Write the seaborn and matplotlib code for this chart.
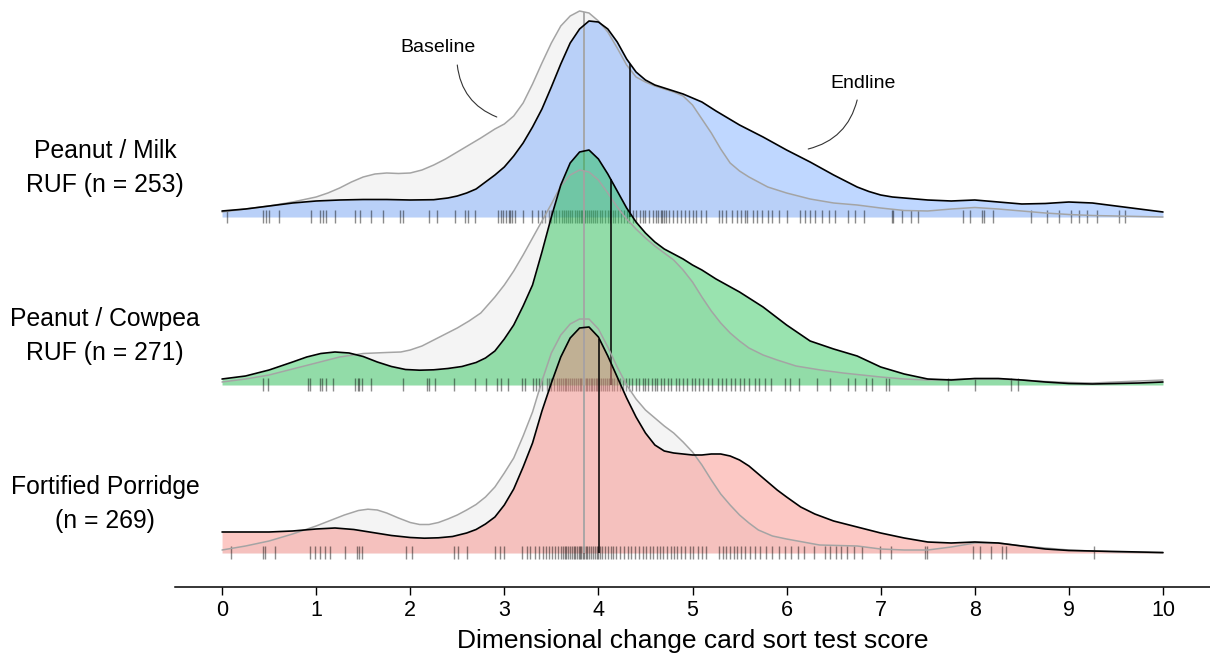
import numpy as np
import pandas as pd
import matplotlib
matplotlib.use("Agg")
import matplotlib.pyplot as plt
import seaborn as sns

# ---------------- data ----------------
groups = ["Peanut / Milk\nRUF (n = 253)",
          "Peanut / Cowpea\nRUF (n = 271)",
          "Fortified Porridge\n(n = 269)"]
fill_colors = ["#619CFF", "#00BA38", "#F8766D"]

# ridge heights (density, in plotted height units) at score positions
milk_end_x = [0, 0.25, 0.5, 0.75, 1, 1.25, 1.5, 1.75, 2, 2.25, 2.4, 2.5, 2.6, 2.7, 2.8,
              2.9, 3.0, 3.1, 3.2, 3.3, 3.4, 3.5, 3.6, 3.7, 3.8, 3.9, 4.0, 4.1, 4.2, 4.3, 4.4, 4.5, 4.6, 4.7,
              4.8, 4.9, 5.0, 5.1,
              5.25, 5.5, 5.75, 6, 6.25, 6.5, 6.75, 6.875, 7, 7.125, 7.25, 7.5, 7.75, 8, 8.25, 8.5, 8.75,
              9, 9.25, 9.5, 9.75, 10]
milk_end_d = [6, 8, 11, 14, 16, 17, 17.5, 17.5, 17, 17.3, 19, 21, 24, 28, 35,
              42, 50, 61, 74, 90, 108, 130, 153, 174, 188, 196, 195, 188, 175, 158, 145, 137, 132, 129,
              126, 123, 119, 115,
              106, 92, 80, 67, 55, 42, 30, 25.5, 22, 20, 19, 17, 16, 17, 15, 13, 13.5,
              15, 14, 11, 8, 5]
milk_base_x = [0, 0.25, 0.5, 0.75, 1, 1.125, 1.25, 1.375, 1.5, 1.625, 1.75, 1.875, 2, 2.125, 2.25, 2.375,
               2.5, 2.625, 2.75,
               2.9, 3.0, 3.1, 3.2, 3.3, 3.4, 3.5, 3.6, 3.7, 3.8, 3.9, 4.0, 4.1, 4.2, 4.3, 4.4, 4.5, 4.6,
               4.7, 4.8, 4.9, 5.0, 5.1, 5.2, 5.3, 5.4, 5.5, 5.6,
               5.8, 6.0, 6.25, 6.5, 6.75, 7, 7.25, 7.5, 7.75, 8, 8.25, 8.5, 8.75, 9, 9.25, 9.5, 9.75, 10]
milk_base_d = [5, 8, 11, 15, 20, 24, 29, 35, 40, 43, 44, 43.5, 44, 47, 52, 58,
               65, 72, 79,
               88, 93, 101, 114, 133, 154, 174, 191, 201, 206, 204, 196, 185, 169, 152, 140, 135, 131,
               128, 125, 121, 112, 98, 84, 68, 54, 46, 40,
               30, 24, 18, 14, 12, 9, 6.5, 6, 8, 9.5, 8, 6, 4, 2.5, 1.5, 1, 0.5, 0]

cow_end_x = [0, 0.25, 0.5, 0.75, 0.9, 1.05, 1.2, 1.35, 1.5, 1.65, 1.8, 1.95, 2.1, 2.25, 2.4, 2.55, 2.7, 2.8,
             2.9, 3.0, 3.1, 3.2, 3.3, 3.4, 3.5, 3.6, 3.7, 3.8, 3.9, 4.0, 4.1, 4.2, 4.3, 4.4, 4.5, 4.6, 4.7,
             4.8, 4.9, 5.0, 5.1,
             5.25, 5.5, 5.75, 6, 6.25, 6.5, 6.75, 7, 7.25, 7.5, 7.75, 8, 8.25, 8.5, 8.75, 9, 9.25, 9.5,
             9.75, 10]
cow_end_d = [6, 9, 15, 23, 28, 31.5, 33, 32, 28.5, 23, 18.5, 15.5, 14.8, 15.2, 16.5, 18.5, 22.5, 27,
             34, 46, 60, 79, 100, 133, 168, 200, 222, 233, 235, 226, 211, 194, 177, 163, 152, 143, 136,
             131, 126, 120, 115,
             106, 93, 78, 60, 44, 36, 29, 18, 11, 6, 5, 6.5, 6.5, 5, 3, 1.5, 1, 1.5, 2, 3]
cow_base_x = [0, 0.25, 0.5, 0.75, 1, 1.25, 1.5, 1.75, 1.9, 2.0, 2.125, 2.25, 2.375, 2.5, 2.625, 2.75,
              2.9, 3.0, 3.1, 3.2, 3.3, 3.4, 3.5, 3.6, 3.7, 3.8, 3.9, 4.0, 4.1, 4.2, 4.3, 4.4, 4.5, 4.6,
              4.7, 4.8, 4.9, 5.0, 5.1, 5.2, 5.3, 5.4, 5.5, 5.6,
              5.75, 5.9, 6.1, 6.36, 6.6, 6.8, 7, 7.25, 7.5, 7.75, 8, 8.25, 8.5, 8.75, 9, 9.25, 9.5, 9.75, 10]
cow_base_d = [3, 6, 10, 16, 22, 28, 31.5, 32.5, 33, 35, 39, 45, 51, 57, 64, 72,
              88, 100, 114, 130, 147, 164, 181, 199, 210, 215, 213, 205, 192, 178, 166, 156, 147, 139,
              132, 125, 115, 103, 88, 74, 62, 52, 44, 37,
              30, 25, 19, 15, 12, 10, 8, 6, 5, 5.5, 6, 6, 5, 3.5, 2.5, 2, 3, 4, 5]

por_end_x = [0, 0.25, 0.5, 0.75, 1, 1.2, 1.4, 1.6, 1.8, 2.0, 2.15, 2.3, 2.45, 2.6, 2.7, 2.8,
             2.9, 3.0, 3.1, 3.2, 3.3, 3.4, 3.5, 3.6, 3.7, 3.8, 3.9, 4.0, 4.1, 4.2, 4.3, 4.4, 4.5, 4.6, 4.7,
             4.8, 4.9, 5.0, 5.1, 5.2, 5.3, 5.4, 5.5, 5.6, 5.7, 5.8, 5.9, 6.0,
             6.15, 6.3, 6.5, 6.75, 7, 7.25, 7.5, 7.75, 8, 8.25, 8.5, 8.75, 9, 9.25, 9.5, 9.75, 10]
por_end_d = [21, 21, 21, 22, 24, 25, 23.5, 20.5, 17.5, 15.5, 14.8, 15.2, 16.5, 20, 23.5, 29,
             36, 48, 64, 86, 110, 142, 170, 196, 215, 225, 226, 216, 197, 176, 155, 136, 120, 108, 102,
             100, 99, 98, 98, 99, 99, 97, 93, 87, 79, 71, 63, 56,
             46, 39, 32, 26, 20, 15, 11, 10, 11, 10, 7, 4, 2.5, 2, 1.5, 1, 0.5]
por_base_x = [0, 0.25, 0.5, 0.75, 1, 1.15, 1.3, 1.45, 1.55, 1.65, 1.75, 1.875, 2.0, 2.1, 2.2, 2.3, 2.4, 2.5,
              2.6, 2.7, 2.8,
              2.9, 3.0, 3.1, 3.2, 3.3, 3.4, 3.5, 3.6, 3.7, 3.8, 3.9, 4.0, 4.1, 4.2, 4.3, 4.4, 4.5, 4.6,
              4.7, 4.8, 4.9, 5.0, 5.1, 5.2, 5.3, 5.4, 5.5, 5.6, 5.7,
              5.85, 6.0, 6.35, 6.75, 7, 7.25, 7.5, 7.75, 8, 8.25, 8.5, 8.75, 9, 9.25, 9.5, 9.75, 10]
por_base_d = [3, 7, 12, 19, 27, 32.5, 38, 42.5, 43.8, 43, 40, 35, 30.5, 28.5, 28.5, 30.5, 34, 38,
              43, 48.5, 56,
              66, 80, 95, 117, 141, 172, 200, 218, 229, 234, 234, 224, 206, 186, 168, 154, 143, 135,
              127, 120, 111, 101, 88, 73, 59, 48, 38, 30, 23,
              17, 14, 8, 7, 4, 3, 3, 6, 10, 10, 7, 5, 3, 2, 1, 0.5, 0]

# endline individual scores (rug)
milk_rug = [0.05, 0.44, 0.47, 0.50, 0.60, 0.95, 1.04, 1.07, 1.10, 1.20, 1.41, 1.47, 1.58, 1.71, 1.89, 1.92,
            2.20, 2.28, 2.48, 2.58, 2.61, 2.69, 2.93, 2.96, 2.99, 3.02, 3.05, 3.06, 3.08, 3.11, 3.20, 3.29,
            3.36, 3.40, 3.43, 3.47, 3.50, 3.53, 3.55, 3.58, 3.61, 3.63, 3.66, 3.68, 3.70, 3.72, 3.75, 3.77,
            3.79, 3.81, 3.83, 3.85, 3.86, 3.88, 3.90, 3.92, 3.94, 3.96, 3.99, 4.02, 4.04, 4.07, 4.10, 4.12,
            4.15, 4.18, 4.21, 4.24, 4.27, 4.30, 4.33, 4.37, 4.40, 4.44, 4.47, 4.50, 4.54, 4.58, 4.61, 4.63,
            4.66, 4.68, 4.70, 4.72, 4.75, 4.79, 4.84, 4.88, 4.92, 4.96, 5.00, 5.04, 5.09, 5.14, 5.28, 5.31,
            5.36, 5.42, 5.47, 5.52, 5.56, 5.58, 5.64, 5.69, 5.74, 5.80, 5.85, 5.92, 6.00, 6.14, 6.20, 6.25,
            6.30, 6.38, 6.45, 6.51, 6.65, 6.73, 6.82, 7.12, 7.13, 7.23, 7.32, 7.40, 7.87, 7.95, 8.08, 8.10,
            8.19, 8.60, 8.77, 8.90, 9.02, 9.11, 9.19, 9.30, 9.53, 9.60]
cow_rug = [0.44, 0.49, 0.91, 0.93, 1.04, 1.06, 1.10, 1.18, 1.41, 1.44, 1.46, 1.49, 1.58, 1.92, 2.18, 2.20,
           2.26, 2.46, 2.69, 2.80, 2.92, 2.97, 3.04, 3.19, 3.22, 3.30, 3.34, 3.37, 3.40, 3.45, 3.48, 3.50,
           3.53, 3.56, 3.58, 3.60, 3.62, 3.64, 3.66, 3.68, 3.70, 3.72, 3.74, 3.76, 3.78, 3.80, 3.82, 3.84,
           3.85, 3.87, 3.88, 3.90, 3.92, 3.93, 3.95, 3.97, 3.99, 4.01, 4.03, 4.05, 4.07, 4.09, 4.11, 4.14,
           4.17, 4.20, 4.23, 4.26, 4.29, 4.33, 4.36, 4.40, 4.43, 4.47, 4.50, 4.53, 4.57, 4.60, 4.62, 4.66,
           4.70, 4.74, 4.77, 4.82, 4.86, 4.90, 4.94, 4.99, 5.03, 5.07, 5.11, 5.16, 5.21, 5.27, 5.31, 5.36,
           5.41, 5.45, 5.50, 5.55, 5.60, 5.66, 5.71, 5.77, 5.83, 5.98, 6.04, 6.13, 6.32, 6.46, 6.65, 6.73,
           6.84, 6.91, 7.06, 7.09, 7.72, 8.00, 8.38, 8.46]
por_rug = [0.10, 0.44, 0.46, 0.56, 0.94, 0.99, 1.04, 1.09, 1.15, 1.31, 1.43, 1.46, 1.49, 1.96, 2.02, 2.46,
           2.51, 2.60, 2.90, 2.95, 3.00, 3.19, 3.24, 3.27, 3.33, 3.37, 3.41, 3.44, 3.48, 3.51, 3.54, 3.57,
           3.60, 3.62, 3.64, 3.66, 3.68, 3.70, 3.72, 3.74, 3.75, 3.77, 3.79, 3.80, 3.82, 3.84, 3.85, 3.87,
           3.88, 3.90, 3.92, 3.94, 3.96, 3.98, 4.00, 4.02, 4.04, 4.07, 4.10, 4.13, 4.16, 4.19, 4.23, 4.27,
           4.31, 4.35, 4.39, 4.43, 4.47, 4.51, 4.55, 4.58, 4.62, 4.65, 4.69, 4.73, 4.77, 4.80, 4.84, 4.88,
           4.92, 4.97, 5.01, 5.06, 5.10, 5.14, 5.28, 5.32, 5.36, 5.40, 5.44, 5.47, 5.52, 5.56, 5.61, 5.66,
           5.72, 5.78, 5.85, 5.92, 5.98, 6.05, 6.12, 6.19, 6.29, 6.41, 6.46, 6.52, 6.58, 6.64, 6.72, 6.80,
           6.99, 7.11, 7.47, 7.49, 7.98, 8.06, 8.17, 8.29, 8.33, 9.27]

median_base = [3.85, 3.85, 3.85]
median_end = [4.34, 4.13, 4.01]

xticks = list(range(0, 11))
xlabel = "Dimensional change card sort test score"

series = [
    (milk_base_x, milk_base_d, milk_end_x, milk_end_d, milk_rug),
    (cow_base_x, cow_base_d, cow_end_x, cow_end_d, cow_rug),
    (por_base_x, por_base_d, por_end_x, por_end_d, por_rug),
]

# ---------------- layout ----------------
sns.set_theme(style="white")
plt.rcParams["font.family"] = ["Liberation Sans", "DejaVu Sans"]
plt.rcParams["text.color"] = "black"
plt.rcParams["axes.labelcolor"] = "black"
plt.rcParams["xtick.color"] = "black"
plt.rcParams["lines.solid_joinstyle"] = "round"

W, H = 1210, 658
fig = plt.figure(figsize=(W / 100, H / 100), dpi=100)
ax = fig.add_axes([175 / W, (H - 587) / H, 1035 / W, 587 / H])
ax.set_xlim(-0.5, 10.5)
ax.set_ylim(0, 587)
ax.patch.set_alpha(0)

offsets = [370, 202, 34]  # ridge baselines (plot units)
GRAY_LINE = "#a4a4a4"

for i, (bx, bd, ex, ed, rug) in enumerate(series):
    off = offsets[i]
    z = 10 * (i + 1)
    bx, bd, ex, ed = map(np.asarray, (bx, bd, ex, ed))
    ax.fill_between(bx, off, off + bd, color="#c8c8c8", alpha=0.2, lw=0, zorder=z + 1)
    ax.fill_between(ex, off, off + ed, color=fill_colors[i], alpha=0.4, lw=0, zorder=z + 2)
    ax.vlines(rug, off - 6, off + 7, color="black", alpha=0.45, lw=1.0, zorder=z + 3)
    sns.lineplot(x=bx, y=off + bd, ax=ax, color=GRAY_LINE, lw=1.1, estimator=None,
                 sort=False, zorder=z + 4)
    sns.lineplot(x=ex, y=off + ed, ax=ax, color="black", lw=1.2, estimator=None,
                 sort=False, zorder=z + 5)
    mb = median_base[i]
    me = median_end[i]
    ax.vlines(mb, off, off + np.interp(mb, bx, bd), color=GRAY_LINE, lw=1.3, zorder=z + 4)
    ax.vlines(me, off, off + np.interp(me, ex, ed), color="black", lw=1.1, zorder=z + 5)
    ax.text(-1.243, off + 49, groups[i], ha="center", va="center", fontsize=17.8,
            linespacing=1.55, clip_on=False)

# annotations
ax.text(2.30, 539, "Baseline", ha="center", va="center", fontsize=14)
ax.annotate("", xy=(2.92, 470), xytext=(2.50, 522),
            arrowprops=dict(arrowstyle="-", color="#333333", lw=0.8,
                            connectionstyle="arc3,rad=0.3", shrinkA=0, shrinkB=0))
ax.text(6.81, 504, "Endline", ha="center", va="center", fontsize=14)
ax.annotate("", xy=(6.23, 438), xytext=(6.75, 487),
            arrowprops=dict(arrowstyle="-", color="#333333", lw=0.8,
                            connectionstyle="arc3,rad=-0.3", shrinkA=0, shrinkB=0))

# axes styling
for s in ["left", "right", "top"]:
    ax.spines[s].set_visible(False)
ax.spines["bottom"].set_color("black")
ax.spines["bottom"].set_linewidth(1.1)
ax.set_xticks(xticks)
ax.set_xticklabels([str(t) for t in xticks])
ax.set_yticks([])
ax.tick_params(axis="x", bottom=True, length=6, width=1, labelsize=15.5, pad=3, colors="black")
ax.set_xlabel(xlabel, fontsize=19, labelpad=6, color="black")

fig.savefig("out.png", dpi=100)
